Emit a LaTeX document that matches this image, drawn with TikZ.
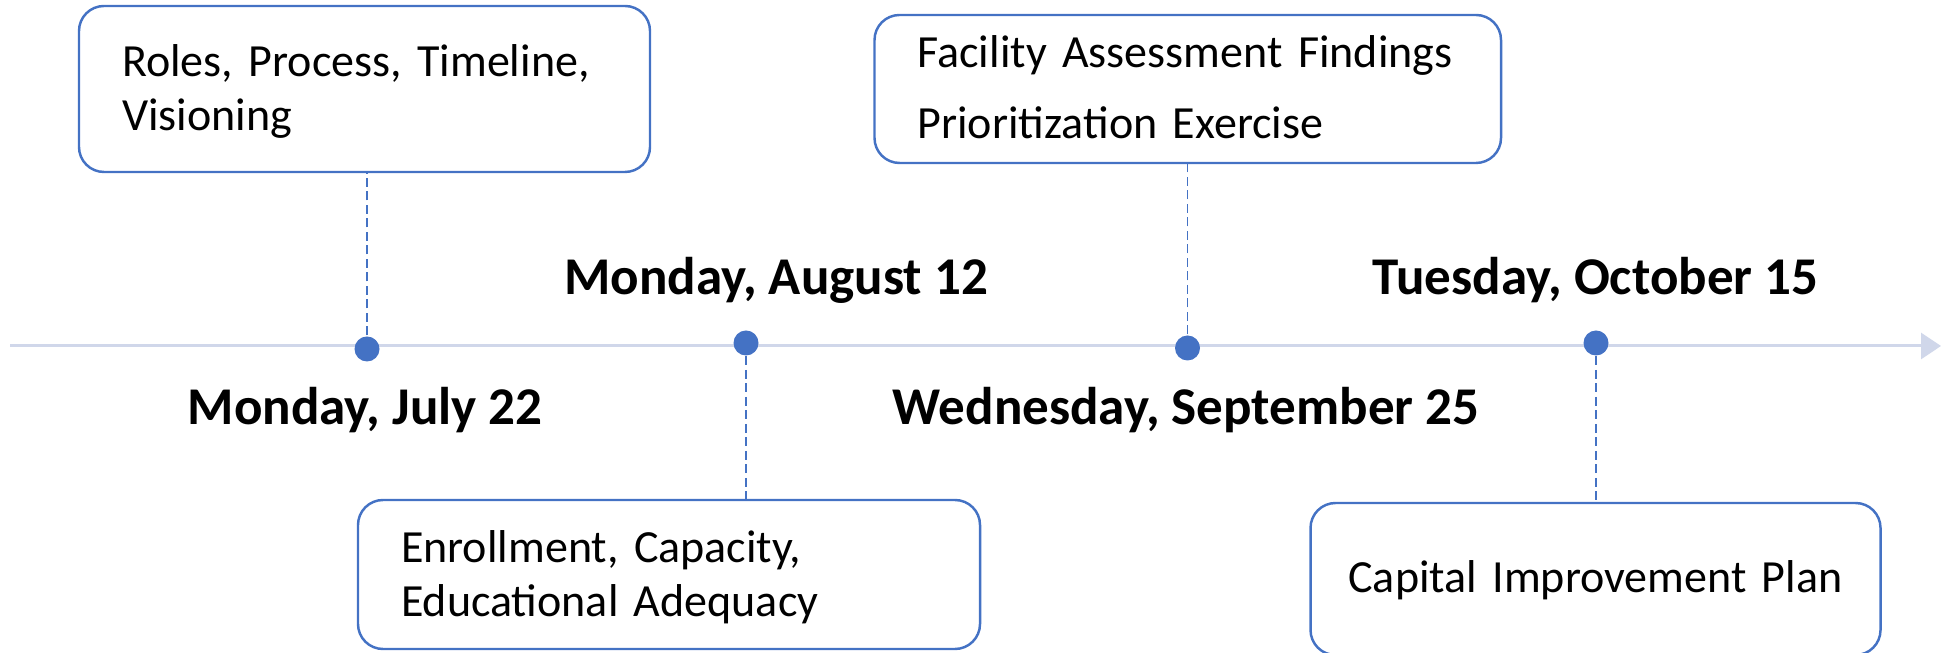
\documentclass[tikz,border=0pt]{standalone}
\usepackage{fontspec}
\setmainfont{Carlito}
\usetikzlibrary{arrows.meta}
\definecolor{accent}{HTML}{4472C4}
\definecolor{axisgray}{HTML}{D0D7EA}
\tikzset{
	event/.style={draw=accent, line width=0.7pt, rounded corners=0.25cm, inner xsep=0.43cm, inner ysep=0pt, align=left, text height=0.30cm, font=\fontsize{13.1}{15.1}\selectfont},
	milestone/.style={circle, fill=accent, inner sep=0pt, minimum size=0.25cm},
	datelabel/.style={font=\fontsize{15.1}{17}\selectfont\bfseries, anchor=base, inner sep=0pt},
	leader/.style={draw=accent, line width=0.45pt, dash pattern=on 0.09cm off 0.045cm},
	axisline/.style={draw=axisgray, line width=0.85pt, -{Triangle[length=0.2cm,width=0.26cm]}},
}

\begin{document}
\begin{tikzpicture}
	\useasboundingbox (0,0) rectangle (19.41,6.53);
	% time axis
	\coordinate (start) at (0.10,3.07);
	\coordinate (end) at (19.41,3.07);
	\draw[axisline] (start) -- (end);

	% event boxes
	\node[event, text width=4.85cm, text depth=0.54cm, minimum height=1.66cm] (box1) at (3.645,5.64) {Roles, Process, Timeline,\\Visioning};
	\node[event, text width=5.36cm, text depth=0.53cm, minimum height=1.49cm] (box2) at (6.69,0.785) {Enrollment, Capacity,\\Educational Adequacy};
	\node[event, text width=5.405cm, text depth=0.72cm, minimum height=1.48cm] (box3) at (11.8775,5.64) {Facility Assessment Findings\\[5.1pt]Prioritization Exercise};
	\node[event, align=center, inner xsep=0.2cm, text width=5.3cm, text depth=0.02cm, minimum height=1.52cm] (box4) at (15.955,0.74) {Capital Improvement Plan};

	% milestones on the axis
	\coordinate (d1) at (3.67,3.04);
	\coordinate (d2) at (7.46,3.10);
	\coordinate (d3) at (11.875,3.05);
	\coordinate (d4) at (15.96,3.10);
	\draw[leader] (d1) -- (d1 |- box1.south);
	\draw[leader] (d2) -- (d2 |- box2.north);
	\draw[leader] (d3) -- (d3 |- box3.south);
	\draw[leader] (d4) -- (d4 |- box4.north);
	\node[milestone] (m1) at (d1) {};
	\node[milestone] (m2) at (d2) {};
	\node[milestone] (m3) at (d3) {};
	\node[milestone] (m4) at (d4) {};

	% dates
	\node[datelabel] (date1) at (3.65,2.28) {Monday, July 22};
	\node[datelabel] (date2) at (7.76,3.58) {Monday, August 12};
	\node[datelabel] (date3) at (11.86,2.28) {Wednesday, September 25};
	\node[datelabel] (date4) at (15.955,3.58) {Tuesday, October 15};
\end{tikzpicture}
\end{document}
